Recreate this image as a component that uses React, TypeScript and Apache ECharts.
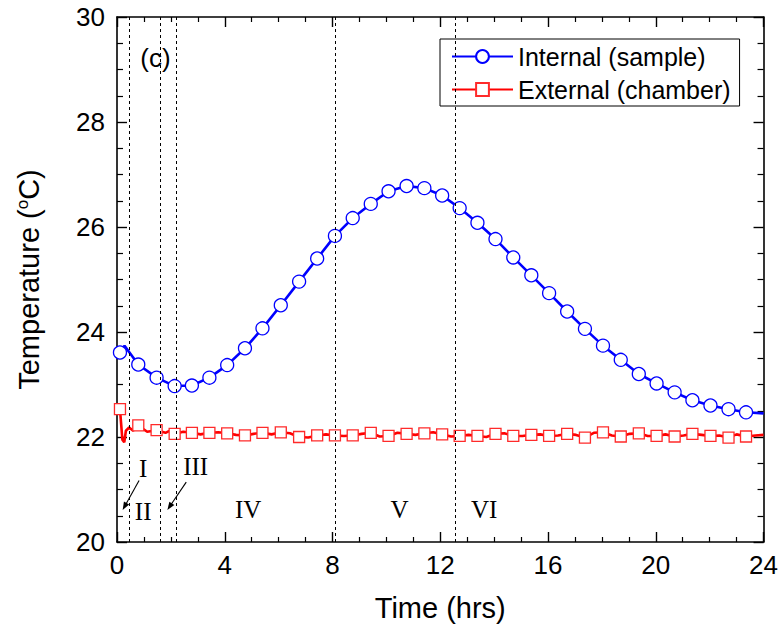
import React, { useEffect, useRef } from "react";
import * as echarts from "echarts";

// ---------------- data ----------------
const markerTimes = [
  0.11, 0.79, 1.47, 2.14, 2.78, 3.43, 4.09, 4.75, 5.4, 6.08, 6.76, 7.43,
  8.09, 8.75, 9.42, 10.08, 10.75, 11.41, 12.07, 12.72, 13.38, 14.05, 14.71, 15.38,
  16.04, 16.71, 17.37, 18.04, 18.7, 19.37, 20.03, 20.7, 21.36, 22.03, 22.7, 23.35,
];
const internalMarkerValues = [
  23.61, 23.38, 23.13, 22.97, 22.98, 23.13, 23.37, 23.69, 24.07, 24.51, 24.96, 25.4,
  25.83, 26.17, 26.44, 26.68, 26.78, 26.74, 26.6, 26.36, 26.08, 25.77, 25.42, 25.08,
  24.74, 24.39, 24.06, 23.74, 23.47, 23.2, 23.02, 22.85, 22.7, 22.6, 22.53, 22.47,
];
const externalMarkerValues = [
  22.53, 22.22, 22.13, 22.06, 22.08, 22.08, 22.07, 22.03, 22.08, 22.09, 22.0, 22.03,
  22.03, 22.03, 22.08, 22.02, 22.06, 22.07, 22.05, 22.02, 22.02, 22.06, 22.02, 22.04,
  22.02, 22.06, 21.99, 22.09, 22.01, 22.07, 22.02, 22.01, 22.06, 22.02, 21.99, 22.01,
];
// extra points of the measured traces that carry no marker
const internalLineTimes = [0.28, 24.0];
const internalLineValues = [23.74, 22.45];
const externalLineTimes = [
  0.2, 0.27, 0.33, 0.45, 0.6, 1.12, 1.8, 2.0, 2.46, 3.1, 3.76, 4.42, 5.07, 5.74,
  6.42, 7.1, 7.76, 8.42, 9.08, 9.75, 10.41, 11.08, 11.74, 12.4, 13.05, 13.71, 14.38,
  15.05, 15.71, 16.37, 17.04, 17.7, 18.37, 19.03, 19.7, 20.36, 21.03, 21.7, 22.36,
  23.0, 23.7, 24.0,
];
const externalLineValues = [
  21.95, 21.9, 22.12, 22.18, 22.12, 22.1, 22.08, 22.13, 22.1, 22.05, 22.09, 22.04,
  22.06, 22.05, 22.07, 21.99, 22.05, 22.02, 22.06, 22.01, 22.08, 22.04, 22.09, 22.01,
  22.04, 22.0, 22.07, 22.02, 22.05, 22.03, 22.04, 22.08, 22.03, 22.06, 22.02, 22.05,
  22.03, 22.04, 22.03, 22.05, 22.03, 22.04,
];
const phaseBoundaries = [0.45, 1.6, 2.2, 8.1, 12.55];
const phaseLabels = ["I", "II", "III", "IV", "V", "VI"];
const phaseLabelX = [0.97, 0.97, 2.92, 4.87, 10.49, 13.63];
const phaseLabelY = [21.4, 20.59, 21.43, 20.61, 20.61, 20.61];
const arrowFrom = [
  [0.82, 21.17],
  [2.57, 21.14],
];
const arrowTo = [
  [0.21, 20.61],
  [1.87, 20.61],
];
const panelLabel = "(c)";
const panelLabelPos = [1.43, 29.22];
const seriesNames = ["Internal (sample)", "External (chamber)"];
const xTickValues = [0, 4, 8, 12, 16, 20, 24];
const yTickValues = [20, 22, 24, 26, 28, 30];

const SANS = '"Liberation Sans", Arial, sans-serif';
const SERIF = '"Liberation Serif", "Times New Roman", serif';

function buildData(mt: number[], mv: number[], lt: number[], lv: number[]) {
  const items: any[] = [];
  mt.forEach((t, i) => items.push({ value: [t, mv[i]] }));
  lt.forEach((t, i) => items.push({ value: [t, lv[i]], symbol: "none" }));
  items.sort((a, b) => a.value[0] - b.value[0]);
  return items;
}

export default function App() {
  const ref = useRef<HTMLDivElement>(null);
  useEffect(() => {
    if (!ref.current) return;
    const chart = echarts.init(ref.current, null, { renderer: "svg" });

    const axisLine = { show: true, onZero: false, lineStyle: { color: "#000", width: 1.6 } };
    const xCommon: any = {
      type: "value",
      min: xTickValues[0],
      max: xTickValues[xTickValues.length - 1],
      interval: 4,
      axisLine,
      axisTick: { show: true, inside: true, length: 10, lineStyle: { color: "#000", width: 1.4 } },
      minorTick: { show: true, splitNumber: 4, length: 5, lineStyle: { color: "#000", width: 1.2 } },
      splitLine: { show: false },
      minorSplitLine: { show: false },
    };
    const yCommon: any = {
      type: "value",
      min: yTickValues[0],
      max: yTickValues[yTickValues.length - 1],
      interval: 2,
      axisLine,
      axisTick: { show: true, inside: true, length: 10, lineStyle: { color: "#000", width: 1.4 } },
      minorTick: { show: true, splitNumber: 4, length: 6, lineStyle: { color: "#000", width: 1.2 } },
      splitLine: { show: false },
      minorSplitLine: { show: false },
    };

    chart.setOption({
      animation: false,
      backgroundColor: "#fff",
      grid: { left: 117, right: 14, top: 17, bottom: 95, containLabel: false },
      legend: {
        orient: "vertical",
        left: 440,
        top: 39,
        itemWidth: 61,
        itemHeight: 16,
        itemGap: 8,
        padding: [5, 9, 4, 11],
        borderColor: "#000",
        borderWidth: 1,
        selectedMode: false,
        backgroundColor: "#fff",
        textStyle: { fontSize: 25, fontFamily: SANS, color: "#000", lineHeight: 25 },
        data: seriesNames,
      },
      xAxis: [
        {
          ...xCommon,
          position: "bottom",
          axisLabel: { show: true, fontSize: 26, fontFamily: SANS, color: "#000", margin: 10 },
          name: "Time (hrs)",
          nameLocation: "middle",
          nameGap: 51,
          nameTextStyle: { fontSize: 29, fontFamily: SANS, color: "#000" },
        },
        { ...xCommon, position: "top", axisLabel: { show: false } },
      ],
      yAxis: [
        {
          ...yCommon,
          position: "left",
          axisLabel: { show: true, fontSize: 26, fontFamily: SANS, color: "#000", margin: 12 },
          name: "Temperature ({sup|o}C)",
          nameLocation: "middle",
          nameGap: 74,
          nameTextStyle: {
            fontSize: 29,
            fontFamily: SANS,
            color: "#000",
            rich: { sup: { fontSize: 17, fontFamily: SANS, color: "#000", verticalAlign: "top" } },
          },
        },
        { ...yCommon, position: "right", axisLabel: { show: false } },
      ],
      series: [
        {
          name: seriesNames[0],
          type: "line",
          xAxisIndex: 0,
          yAxisIndex: 0,
          data: buildData(markerTimes, internalMarkerValues, internalLineTimes, internalLineValues),
          symbol: "circle",
          symbolSize: 13,
          showSymbol: true,
          lineStyle: { color: "#0000ff", width: 2.6 },
          itemStyle: { color: "#fff", borderColor: "#0000ff", borderWidth: 1.3 },
          emphasis: { disabled: true },
          z: 3,
          markLine: {
            silent: true,
            symbol: ["none", "none"],
            label: { show: false },
            emphasis: { disabled: true },
            lineStyle: { type: [3, 3], color: "#000", width: 1 },
            data: phaseBoundaries.map((x) => ({ xAxis: x })),
          },
        },
        {
          name: seriesNames[1],
          type: "line",
          xAxisIndex: 0,
          yAxisIndex: 0,
          data: buildData(markerTimes, externalMarkerValues, externalLineTimes, externalLineValues),
          symbol: "rect",
          symbolSize: 11,
          showSymbol: true,
          lineStyle: { color: "#ff0000", width: 2.6 },
          itemStyle: { color: "#fff", borderColor: "#ff2a2a", borderWidth: 1.3 },
          emphasis: { disabled: true },
          z: 2,
        },
      ],
    });

    const px = (p: number[]) => chart.convertToPixel({ xAxisIndex: 0, yAxisIndex: 0 }, p) as number[];
    const graphics: any[] = [];
    phaseLabels.forEach((lab, i) => {
      const [x, y] = px([phaseLabelX[i], phaseLabelY[i]]);
      graphics.push({
        type: "text",
        x,
        y,
        silent: true,
        style: {
          text: lab,
          fontSize: 25,
          fontFamily: SERIF,
          fill: "#000",
          align: "center",
          verticalAlign: "middle",
          textAlign: "center",
          textVerticalAlign: "middle",
        },
      });
    });
    arrowFrom.forEach((from, i) => {
      const a = px(from);
      const b = px(arrowTo[i]);
      const dx = b[0] - a[0];
      const dy = b[1] - a[1];
      const len = Math.sqrt(dx * dx + dy * dy);
      const ux = dx / len;
      const uy = dy / len;
      const hl = 8;
      const hw = 3;
      const bx = b[0] - ux * hl;
      const by = b[1] - uy * hl;
      graphics.push({
        type: "line",
        silent: true,
        shape: { x1: a[0], y1: a[1], x2: bx + ux * 2, y2: by + uy * 2 },
        style: { stroke: "#000", lineWidth: 1.1 },
      });
      graphics.push({
        type: "polygon",
        silent: true,
        shape: {
          points: [
            [b[0], b[1]],
            [bx - uy * hw, by + ux * hw],
            [bx + uy * hw, by - ux * hw],
          ],
        },
        style: { fill: "#000" },
      });
    });
    const pc = px(panelLabelPos);
    graphics.push({
      type: "text",
      x: pc[0],
      y: pc[1],
      silent: true,
      style: {
        text: panelLabel,
        fontSize: 26,
        fontFamily: SANS,
        fill: "#000",
        align: "center",
        verticalAlign: "middle",
        textAlign: "center",
        textVerticalAlign: "middle",
      },
    });
    chart.setOption({ graphic: graphics });

    return () => chart.dispose();
  }, []);

  return (
    <div
      ref={ref}
      style={{ position: "fixed", left: 0, top: 0, width: 781, height: 637, background: "#fff" }}
    />
  );
}
